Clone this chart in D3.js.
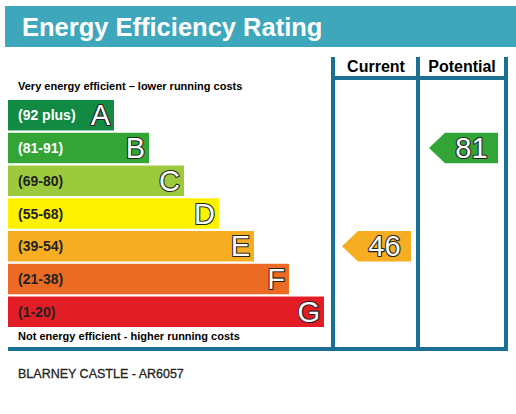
<!DOCTYPE html>
<html><head><meta charset="utf-8">
<script src="https://cdn.jsdelivr.net/npm/d3@7"></script>
<style>body{margin:0;background:#fff}text{font-family:Arial,"Liberation Sans",sans-serif}</style>
</head><body><svg id="c" width="516" height="414"></svg>
<script>
// rating bands, top to bottom
var letters = ['A', 'B', 'C', 'D', 'E', 'F', 'G'];
var ranges = ['(92 plus)', '(81-91)', '(69-80)', '(55-68)', '(39-54)', '(21-38)', '(1-20)'];
var minScores = [92, 81, 69, 55, 39, 21, 1];
var colours = ['#138a43', '#33a537', '#9cca3c', '#fff200', '#f6ad22', '#eb6b25', '#e21d25'];
var labelColours = ['#fff', '#fff', '#222', '#222', '#222', '#222', '#222'];
var current = 46, potential = 81;

var svg = d3.select('#c');
var teal = '#3ea7bb', frame = '#1b6f93';

var y = d3.scaleBand().domain(letters).range([100, 327]).paddingInner(0.07);
var barEnd = d3.scaleLinear().domain([0, 6]).range([114, 324]);

function bandOf(s) { return letters[minScores.findIndex(function (m) { return s >= m; })]; }

function outlined(sel) {
    return sel.attr('font-size', 29).attr('fill', '#fff').attr('stroke', '#222')
        .attr('stroke-width', 2.2).attr('paint-order', 'stroke').attr('stroke-linejoin', 'round');
}

// title bar
svg.append('rect').attr('x', 5).attr('y', 6).attr('width', 511).attr('height', 41).attr('fill', teal);
svg.append('text').attr('x', 22).attr('y', 36).attr('fill', '#fff').attr('font-size', 25.5)
    .attr('font-weight', 'bold').text('Energy Efficiency Rating');

svg.append('text').attr('x', 18).attr('y', 90).attr('font-size', 11).attr('font-weight', 'bold')
    .text('Very energy efficient \u2013 lower running costs');
svg.append('text').attr('x', 18).attr('y', 340).attr('font-size', 11).attr('font-weight', 'bold')
    .text('Not energy efficient - higher running costs');

var rows = svg.selectAll('g.band').data(letters).enter().append('g').attr('class', 'band');
rows.append('rect').attr('x', 8).attr('y', function (d) { return y(d); })
    .attr('width', function (d, i) { return barEnd(i) - 8; }).attr('height', y.bandwidth())
    .attr('fill', function (d, i) { return colours[i]; });
rows.append('text').attr('x', 18).attr('y', function (d) { return y(d) + y.bandwidth() / 2 + 5; })
    .attr('font-size', 14).attr('font-weight', 'bold')
    .attr('fill', function (d, i) { return labelColours[i]; })
    .text(function (d, i) { return ranges[i]; });
outlined(rows.append('text').attr('x', function (d, i) { return barEnd(i) - 4; })
    .attr('y', function (d) { return y(d) + y.bandwidth() / 2 + 10; })
    .attr('text-anchor', 'end')).text(function (d) { return d; });

// frame
var lines = [[333, 57, 333, 349], [418, 57, 418, 349], [506, 57, 506, 349],
             [333, 78, 506, 78], [8, 349, 508, 349]];
svg.selectAll('line.f').data(lines).enter().append('line')
    .attr('x1', function (d) { return d[0]; }).attr('y1', function (d) { return d[1]; })
    .attr('x2', function (d) { return d[2]; }).attr('y2', function (d) { return d[3]; })
    .attr('stroke', frame).attr('stroke-width', 4);
svg.append('text').attr('x', 376).attr('y', 72).attr('text-anchor', 'middle').attr('font-size', 16)
    .attr('font-weight', 'bold').text('Current');
svg.append('text').attr('x', 462).attr('y', 72).attr('text-anchor', 'middle').attr('font-size', 16)
    .attr('font-weight', 'bold').text('Potential');

// arrows
function arrow(score, x0, x1) {
    var l = bandOf(score), i = letters.indexOf(l), t = y(l), h = y.bandwidth();
    svg.append('path').attr('fill', colours[i])
        .attr('d', d3.line()([[x0, t + h / 2], [x0 + 16, t], [x1, t], [x1, t + h], [x0 + 16, t + h]]) + 'Z');
    outlined(svg.append('text').attr('x', (x0 + x1) / 2 + 8).attr('y', t + h / 2 + 10)
        .attr('text-anchor', 'middle')).text(score);
}
arrow(current, 342, 411);
arrow(potential, 429, 498);

svg.append('text').attr('x', 18).attr('y', 378).attr('font-size', 12.5).attr('fill', '#222')
    .attr('stroke', '#222').attr('stroke-width', 0.3).text('BLARNEY CASTLE - AR6057');
</script></body></html>
